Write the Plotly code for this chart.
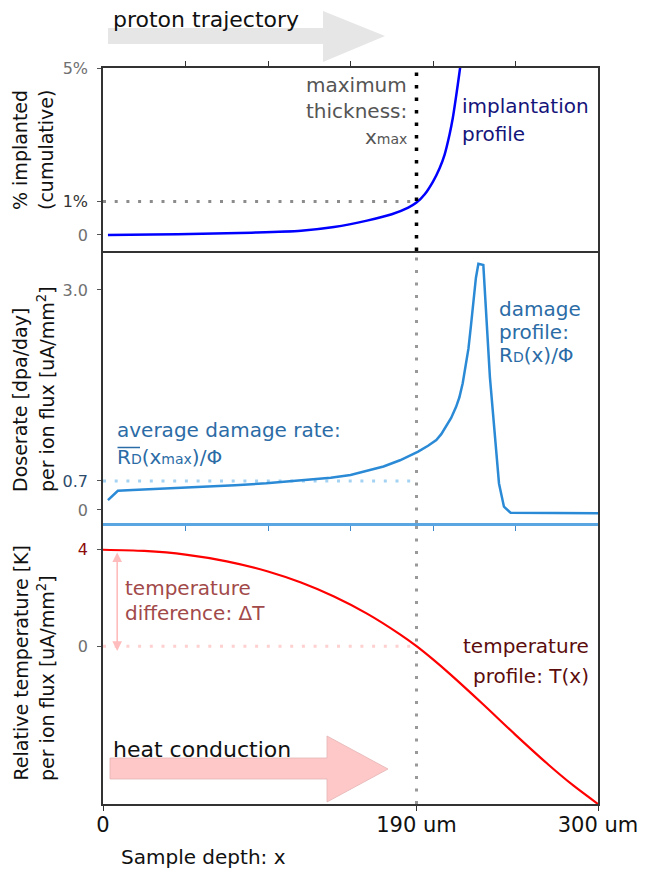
import plotly.graph_objects as go
from plotly.subplots import make_subplots

# ---------------- data ----------------
X_MAX = 190          # maximum thickness [um]
DEPTH_MAX = 300      # sample depth [um]

IMPL_X = [3, 30, 60, 90, 120, 140, 160, 175, 185, 190, 195, 200, 204, 207, 210, 212, 214, 216, 218, 220]
IMPL_Y = [0.0, 0.015, 0.035, 0.07, 0.13, 0.24, 0.43, 0.62, 0.82, 0.97, 1.22, 1.6, 2.0, 2.4, 3.0,
          3.5, 4.15, 4.85, 5.6, 6.5]
IMPL_THRESHOLD = 1.0

DOSE_X = [3, 9, 18, 40, 59, 65, 80, 99, 119, 138, 150, 170, 180, 191, 197, 202, 205, 208, 211,
          214, 216, 218, 220, 221.5, 223, 224.5, 226, 227.5, 230.5, 234.5, 240, 243, 247, 300]
DOSE_Y = [0.24, 0.465, 0.48, 0.52, 0.548, 0.563, 0.6, 0.644, 0.72, 0.78, 0.845, 1.05, 1.2, 1.41,
          1.55, 1.69, 1.83, 2.01, 2.22, 2.49, 2.72, 3.06, 3.5, 3.9, 4.45, 5.1, 5.6, 5.94, 5.91,
          3.2, 0.64, 0.08, -0.066, -0.08]
DOSE_AVG = 0.7

TEMP_X = [0, 25, 50, 75, 100, 120, 140, 160, 180, 190, 200, 210, 230, 250, 270, 285, 300]
TEMP_Y = [4.0, 3.95, 3.80, 3.52, 3.10, 2.64, 2.06, 1.35, 0.49, 0.0, -0.55, -1.14, -2.39, -3.68,
          -4.92, -5.78, -6.55]
TEMP_REF = 0.0
TEMP_TOP = 4.0

X_TICKS = [0, 190, 300]
X_TICK_TEXT = ["0", "190 um", "300 um"]
X_MINOR_TICKS = [50, 100, 150, 200, 250]

IMPL_TICKS = [0, 1, 5]
IMPL_TICK_TEXT = ["0", "<span style='color:#333333'>1%</span>", "5%"]
DOSE_TICKS = [0, 0.7, 5.31]
DOSE_TICK_TEXT = ["0", "<span style='color:#2d4c6c'>0.7</span>", "3.0"]
TEMP_TICKS = [0, 4]
TEMP_TICK_TEXT = ["0", "<span style='color:#8b0a0a'>4</span>"]

# ---------------- styling ----------------
FONT = "DejaVu Sans"
W, H = 645, 873
L, R, T, B = 103, 47, 68, 69
PW, PH = W - L - R, H - T - B


def px(xp):
    return (xp - L) / PW


def py(yp):
    return (H - B - yp) / PH


fig = make_subplots(rows=3, cols=1, shared_xaxes=True, vertical_spacing=0,
                    row_heights=[183, 272, 281])

# shaded region beyond maximum thickness
for r in (1, 2, 3):
    fig.add_vrect(x0=X_MAX, x1=DEPTH_MAX, fillcolor="#f2f2f2", line_width=0,
                  layer="below", row=r, col=1)

# reference dotted lines
fig.add_trace(go.Scatter(x=[0, X_MAX], y=[IMPL_THRESHOLD, IMPL_THRESHOLD], mode="lines",
                         line=dict(color="#8c8c8c", width=3, dash="3px,8.7px")), row=1, col=1)
fig.add_trace(go.Scatter(x=[0, X_MAX], y=[DOSE_AVG, DOSE_AVG], mode="lines",
                         line=dict(color="#a3d2f2", width=3, dash="3px,8.7px")), row=2, col=1)
fig.add_trace(go.Scatter(x=[0, X_MAX], y=[TEMP_REF, TEMP_REF], mode="lines",
                         line=dict(color="#ffd0d0", width=3, dash="3px,8.7px")), row=3, col=1)

# curves
fig.add_trace(go.Scatter(x=IMPL_X, y=IMPL_Y, mode="lines", line_shape="spline",
                         line=dict(color="#0000ff", width=2.5, smoothing=0.8)), row=1, col=1)
fig.add_trace(go.Scatter(x=DOSE_X, y=DOSE_Y, mode="lines",
                         line=dict(color="#2b8ad6", width=2.5)), row=2, col=1)
fig.add_trace(go.Scatter(x=TEMP_X, y=TEMP_Y, mode="lines", line_shape="spline",
                         line=dict(color="#ff0000", width=2.2, smoothing=0.8)), row=3, col=1)

# vertical x_max lines
fig.add_vline(x=X_MAX, line=dict(color="#000000", width=3.5, dash="3.5px,9px"), row=1, col=1)
fig.add_vline(x=X_MAX, line=dict(color="#999999", width=3, dash="3px,9.5px"), row=2, col=1)
fig.add_vline(x=X_MAX, line=dict(color="#999999", width=3, dash="3px,9.5px"), row=3, col=1)

# axes
fig.update_xaxes(range=[0, DEPTH_MAX], showgrid=False, zeroline=False, automargin=False)
fig.update_xaxes(row=1, col=1, side="top", showline=True, linecolor="#333333", linewidth=1.5,
                 mirror=True, ticks="outside", tickvals=X_MINOR_TICKS, ticklen=5,
                 tickcolor="#333333", showticklabels=False)
fig.update_xaxes(row=2, col=1, showline=True, linecolor="#5aa6e2", linewidth=3, mirror=False,
                 ticks="outside", tickvals=X_MINOR_TICKS, ticklen=5, tickcolor="#3f88c8",
                 showticklabels=False)
fig.update_xaxes(row=3, col=1, showline=True, linecolor="#333333", linewidth=1.5, mirror=False,
                 ticks="outside", tickvals=X_TICKS, ticktext=X_TICK_TEXT, ticklen=5,
                 tickcolor="#333333", showticklabels=True, ticklabelstandoff=-4,
                 tickfont=dict(family=FONT, size=21, color="#111111"))

fig.update_yaxes(showgrid=False, zeroline=False, showline=True, linecolor="#333333",
                 linewidth=1.5, mirror=True, ticks="outside", ticklen=4, tickcolor="#555555",
                 automargin=False, ticklabelstandoff=6,
                 tickfont=dict(family=FONT, size=16, color="#707070"))
fig.update_yaxes(row=1, col=1, range=[-0.48, 5], tickvals=IMPL_TICKS, ticktext=IMPL_TICK_TEXT)
fig.update_yaxes(row=2, col=1, range=[-0.314, 6.25], tickvals=DOSE_TICKS, ticktext=DOSE_TICK_TEXT)
fig.update_yaxes(row=3, col=1, range=[-6.55, 5.11], tickvals=TEMP_TICKS, ticktext=TEMP_TICK_TEXT)

# delta-T arrow
fig.add_annotation(x=8.6, y=TEMP_REF - 0.2, ax=8.6, ay=TEMP_TOP - 0.05, xref="x3", yref="y3",
                   axref="x3", ayref="y3", text="", showarrow=True, arrowhead=2,
                   arrowside="end+start", arrowsize=1.2, arrowwidth=1.6, arrowcolor="#ffbcbc")


def label(text, x, y, size=20, color="#000", xanchor="left", yanchor="middle", angle=0):
    fig.add_annotation(xref="paper", yref="paper", x=px(x), y=py(y), text=text,
                       showarrow=False, xanchor=xanchor, yanchor=yanchor, textangle=angle,
                       font=dict(family=FONT, size=size, color=color), borderpad=0)


SM = "<span style='font-size:14px'>{}</span>"


def arrow_path(pts):
    return "M " + " L ".join(f"{px(a):.5f},{py(b):.5f}" for a, b in pts) + " Z"


# big arrows
fig.add_shape(type="path", xref="paper", yref="paper", layer="above",
              path=arrow_path([(108, 28), (323, 28), (323, 11), (385, 36), (323, 62),
                               (323, 44), (108, 44)]),
              fillcolor="#e6e6e6", line=dict(width=0))
fig.add_shape(type="path", xref="paper", yref="paper", layer="above",
              path=arrow_path([(110, 758), (327, 758), (327, 736), (388, 769), (327, 802),
                               (327, 779), (110, 779)]),
              fillcolor="#ffc8c8", line=dict(width=0.8, color="#e3b4b4"))

label("proton trajectory", 112, 20, size=22, color="#111111")
label("heat conduction", 112, 749, size=22, color="#111111")

# top panel texts
label("maximum", 408, 85, color="#555555", xanchor="right")
label("thickness:", 408, 110.5, color="#555555", xanchor="right")
label("x" + SM.format("max"), 408, 137, color="#555555", xanchor="right")
label("implantation", 461, 106, color="#14147a")
label("profile", 461, 134.5, color="#14147a")

# middle panel texts
DT = "#2b6ca6"
label("damage", 498, 309, color=DT)
label("profile:", 498, 332, color=DT)
label("R" + SM.format("D") + "(x)/Φ", 498, 355, color=DT)
label("average damage rate:", 116, 430, color=DT)
label("R" + SM.format("D") + "(x" + SM.format("max") + ")/Φ", 116, 457, color=DT)
fig.add_shape(type="line", xref="paper", yref="paper", x0=px(117.5), x1=px(140),
              y0=py(447.5), y1=py(447.5), line=dict(color=DT, width=1.5))

# bottom panel texts
label("temperature", 124, 588, color="#a24a4a")
label("difference: ΔT", 124, 613, color="#a24a4a")
label("temperature", 590, 646, color="#5c0c0c", xanchor="right")
label("profile: T(x)", 590, 676, color="#5c0c0c", xanchor="right")

# y-axis titles (rotated)
YT = dict(size=19, color="#111111", xanchor="center", yanchor="bottom", angle=-90)
label("% implanted", 20, 211, **YT)
label("(cumulative)", 46, 211, **YT)
label("Doserate [dpa/day]", 20, 493, **YT)
label("per ion flux [uA/mm<sup>2</sup>]", 46, 493, **YT)
label("Relative temperature [K]", 20, 782, **YT)
label("per ion flux [uA/mm<sup>2</sup>]", 46, 782, **YT)

# x-axis title
label("Sample depth: x", 120, 857, size=20, color="#111111")

fig.update_layout(width=W, height=H, autosize=False,
                  margin=dict(l=L, r=R, t=T, b=B),
                  paper_bgcolor="white", plot_bgcolor="rgba(0,0,0,0)",
                  showlegend=False, hovermode=False,
                  font=dict(family=FONT, color="#111111"))

fig.write_html("out.html", config={"displayModeBar": False},
               post_script="document.body.style.margin='0';document.body.style.padding='0';")
